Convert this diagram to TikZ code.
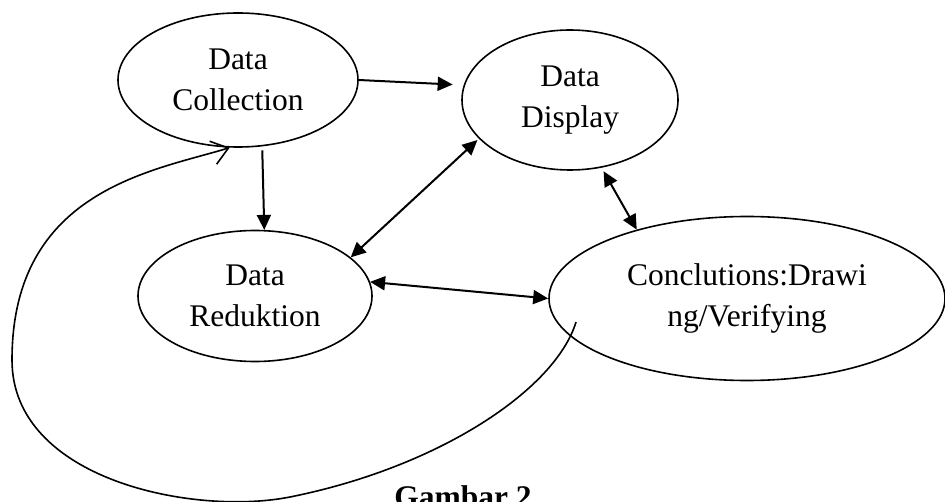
\documentclass[tikz,border=0pt]{standalone}
\usepackage{fontspec}
\setmainfont{Liberation Serif}
\usetikzlibrary{arrows.meta,shapes.geometric}
\begin{document}
\begin{tikzpicture}[x=1pt,y=-1pt,
  stage/.style={ellipse, draw, line width=1.6pt, inner sep=0pt, align=center,
    font=\fontsize{31.5}{41}\selectfont},
  oneway/.style={line width=2pt, -{Triangle[length=15pt,width=14pt]}},
  twoway/.style={line width=2pt, {Triangle[length=15pt,width=14pt]}-{Triangle[length=15pt,width=14pt]}},
  feedback/.style={line width=1.6pt, -{Straight Barb[length=16pt,width=24pt]}},
]
\useasboundingbox (0,0) rectangle (945,502);

% the four stages
\node[stage, minimum width=240pt, minimum height=134pt] (coll) at (238,80) {Data\\Collection};
\node[stage, minimum width=216pt, minimum height=140pt] (disp) at (570,100) {Data\\Display};
\node[stage, minimum width=234pt, minimum height=131pt] (red)  at (255,296) {Data\\Reduktion};
\node[stage, minimum width=396pt, minimum height=164pt] (conc) at (747,298.5) {Conclutions:Drawi\\ng/Verifying};

% connectors between stages
\draw[oneway, shorten >=11pt] (coll.east) -- (disp.172);
\draw[oneway, shorten <=4pt] (coll.-70) -- (red.82);
\draw[twoway, shorten >=2pt] (red.22.5) -- (disp.203);
\draw[twoway, shorten <=4pt] (disp.-65) -- (conc.148);
\draw[twoway] (red.7) -- (conc.west);

% feedback loop from the conclusions back to data collection
\coordinate (loopstart) at (576,322);
\draw[feedback] (loopstart)
  .. controls (555.7,389) and (440,467) .. (290,497)
  .. controls (194,516) and (12,480) .. (12,360)
  .. controls (12,190) and (153.4,171) .. (coll.-97);

% caption
\node[anchor=base, font=\bfseries\fontsize{31.5}{41}\selectfont] (cap) at (463,507) {Gambar 2};
\end{tikzpicture}
\end{document}
